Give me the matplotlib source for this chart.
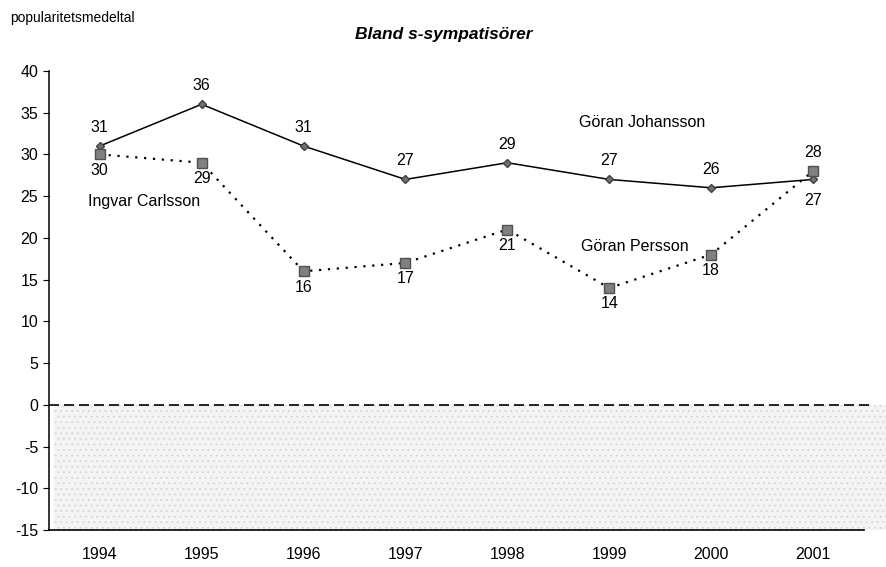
import matplotlib
matplotlib.use("Agg")
import matplotlib.pyplot as plt

# data
years = [1994, 1995, 1996, 1997, 1998, 1999, 2000, 2001]
johansson = [31, 36, 31, 27, 29, 27, 26, 27]
carlsson_persson = [30, 29, 16, 17, 21, 14, 18, 28]

plt.rcParams['font.family'] = ['Liberation Sans', 'DejaVu Sans']
plt.rcParams['axes.unicode_minus'] = False
plt.rcParams['hatch.linewidth'] = 0.6

fig = plt.figure(figsize=(8.87, 5.67), dpi=100)
ax = fig.add_axes([0.055, 0.065, 0.919, 0.81])

# stippled area below zero
ax.fill_between([1993.55, 2001.72], -15, 0, facecolor='#f4f4f4', edgecolor='#d4d4d4',
                hatch='...', linewidth=0, clip_on=False, zorder=0)
ax.plot([1993.5, 2001.55], [0, 0], color='black', linestyle=(0, (6, 3)), linewidth=1.2,
        clip_on=False, zorder=1)
ax.plot([1993.5, 2001.5], [-15, -15], color='black', linewidth=1.2, clip_on=False, zorder=1)

# lines
ax.plot(years, johansson, color='black', linewidth=1.1, marker='D', markersize=4.5,
        markerfacecolor='#707070', markeredgecolor='#404040', zorder=3)
ax.plot(years, carlsson_persson, color='black', linewidth=1.6, linestyle=(0, (1, 3)),
        marker='s', markersize=6.5, markerfacecolor='#808080', markeredgecolor='#505050', zorder=3)

# value labels
fs = 11.5
for x, v in zip(years, johansson):
    if x == 2001:
        ax.annotate(str(v), (x, v), xytext=(0, -10), textcoords='offset points',
                    ha='center', va='top', fontsize=fs)
    else:
        ax.annotate(str(v), (x, v), xytext=(0, 8), textcoords='offset points',
                    ha='center', va='bottom', fontsize=fs)
for x, v in zip(years, carlsson_persson):
    if x == 2001:
        ax.annotate(str(v), (x, v), xytext=(0, 8), textcoords='offset points',
                    ha='center', va='bottom', fontsize=fs)
    else:
        ax.annotate(str(v), (x, v), xytext=(0, -6), textcoords='offset points',
                    ha='center', va='top', fontsize=fs)

ax.text(1998.7, 33.8, "Göran Johansson", fontsize=fs, va='center')
ax.text(1998.72, 19.0, "Göran Persson", fontsize=fs, va='center')
ax.text(1993.88, 24.4, "Ingvar Carlsson", fontsize=fs, va='center')

ax.set_xlim(1993.5, 2001.5)
ax.set_ylim(-15, 40)
ax.set_yticks(range(-15, 41, 5))
ax.set_xticks(years)
ax.tick_params(axis='x', length=0, pad=12, labelsize=fs)
ax.tick_params(axis='y', direction='out', length=4, labelsize=fs)
for s in ['top', 'right', 'bottom']:
    ax.spines[s].set_visible(False)
ax.spines['left'].set_linewidth(1.1)

fig.text(0.012, 0.968, "popularitetsmedeltal", fontsize=10, va='center')
fig.text(0.5, 0.94, "Bland s-sympatisörer", fontsize=12.5, fontweight='bold',
         fontstyle='italic', ha='center', va='center')

fig.savefig("out.png", dpi=100)
